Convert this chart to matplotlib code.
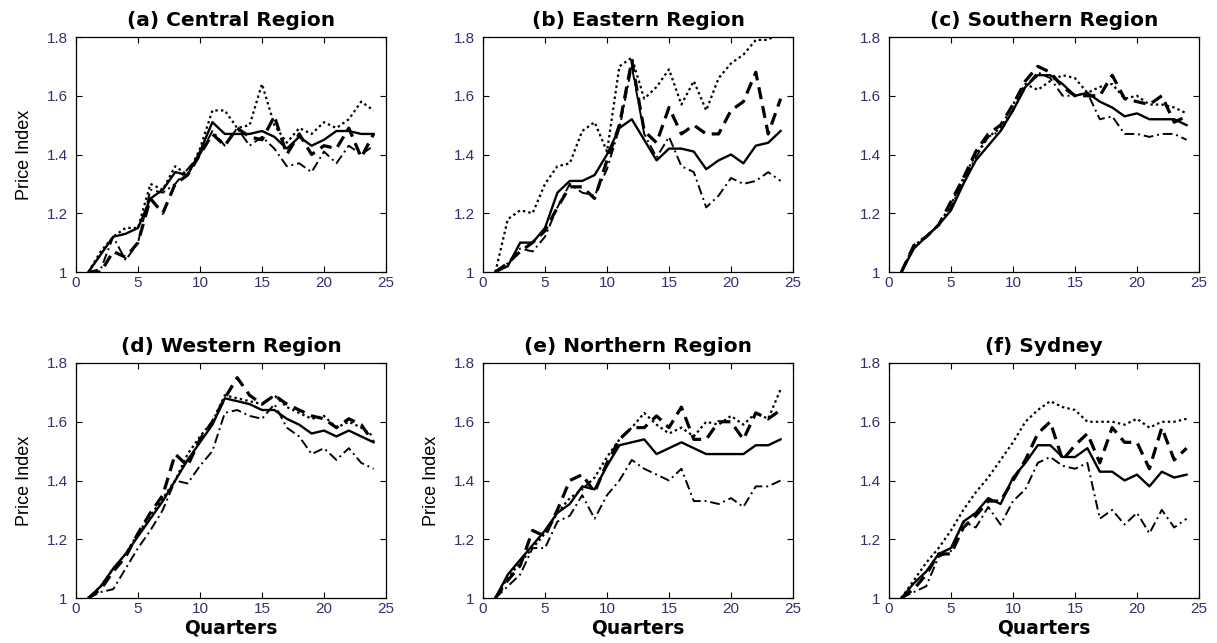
import matplotlib
matplotlib.use("Agg")
import matplotlib.pyplot as plt
import numpy as np

plt.rcParams['font.family'] = ['Liberation Sans', 'DejaVu Sans']

quarters = np.arange(1, 25)

titles = ['(a) Central Region', '(b) Eastern Region', '(c) Southern Region',
          '(d) Western Region', '(e) Northern Region', '(f) Sydney']

# four series per panel: solid, dotted, dashed, dash-dot
central_solid = [1.00, 1.06, 1.12, 1.13, 1.15, 1.25, 1.28, 1.34, 1.33, 1.41, 1.51, 1.47,
                 1.47, 1.47, 1.48, 1.46, 1.42, 1.46, 1.43, 1.45, 1.48, 1.48, 1.47, 1.47]
central_dot = [1.00, 1.07, 1.12, 1.15, 1.15, 1.30, 1.28, 1.36, 1.33, 1.42, 1.55, 1.55,
               1.49, 1.50, 1.64, 1.50, 1.44, 1.49, 1.47, 1.51, 1.49, 1.52, 1.58, 1.55]
central_dash = [1.00, 1.00, 1.07, 1.05, 1.10, 1.25, 1.20, 1.30, 1.33, 1.40, 1.47, 1.43,
                1.49, 1.46, 1.45, 1.53, 1.40, 1.47, 1.40, 1.43, 1.42, 1.49, 1.39, 1.47]
central_dashdot = [1.00, 1.01, 1.12, 1.04, 1.10, 1.28, 1.27, 1.30, 1.35, 1.40, 1.48, 1.43,
                   1.49, 1.43, 1.46, 1.42, 1.36, 1.37, 1.34, 1.41, 1.37, 1.43, 1.40, 1.43]

eastern_solid = [1.00, 1.02, 1.10, 1.10, 1.15, 1.27, 1.31, 1.31, 1.33, 1.40, 1.49, 1.52,
                 1.45, 1.38, 1.42, 1.42, 1.41, 1.35, 1.38, 1.40, 1.37, 1.43, 1.44, 1.48]
eastern_dot = [1.00, 1.18, 1.21, 1.20, 1.30, 1.36, 1.37, 1.48, 1.51, 1.41, 1.70, 1.73,
               1.59, 1.63, 1.69, 1.57, 1.65, 1.55, 1.66, 1.71, 1.74, 1.79, 1.79, 1.82]
eastern_dash = [1.00, 1.03, 1.07, 1.10, 1.14, 1.22, 1.29, 1.29, 1.25, 1.38, 1.50, 1.72,
                1.48, 1.44, 1.56, 1.47, 1.50, 1.47, 1.47, 1.55, 1.58, 1.68, 1.47, 1.59]
eastern_dashdot = [1.00, 1.03, 1.08, 1.07, 1.12, 1.22, 1.30, 1.27, 1.26, 1.35, 1.49, 1.70,
                   1.47, 1.39, 1.46, 1.36, 1.34, 1.22, 1.26, 1.32, 1.30, 1.31, 1.34, 1.31]

southern_solid = [1.00, 1.08, 1.12, 1.16, 1.21, 1.30, 1.38, 1.43, 1.48, 1.55, 1.63, 1.67,
                  1.67, 1.64, 1.60, 1.61, 1.58, 1.56, 1.53, 1.54, 1.52, 1.52, 1.52, 1.50]
southern_dot = [1.00, 1.09, 1.12, 1.16, 1.23, 1.32, 1.40, 1.46, 1.49, 1.57, 1.64, 1.62,
                1.65, 1.67, 1.66, 1.61, 1.63, 1.64, 1.59, 1.60, 1.57, 1.57, 1.56, 1.54]
southern_dash = [1.00, 1.09, 1.12, 1.16, 1.24, 1.32, 1.41, 1.47, 1.50, 1.57, 1.65, 1.70,
                 1.68, 1.63, 1.60, 1.60, 1.60, 1.67, 1.59, 1.58, 1.57, 1.60, 1.51, 1.53]
southern_dashdot = [1.00, 1.08, 1.12, 1.16, 1.22, 1.31, 1.39, 1.46, 1.48, 1.55, 1.63, 1.68,
                    1.66, 1.60, 1.60, 1.61, 1.52, 1.53, 1.47, 1.47, 1.46, 1.47, 1.47, 1.45]

western_solid = [1.00, 1.04, 1.10, 1.15, 1.21, 1.27, 1.33, 1.40, 1.47, 1.53, 1.59, 1.68,
                 1.67, 1.66, 1.64, 1.64, 1.61, 1.59, 1.56, 1.57, 1.55, 1.57, 1.55, 1.53]
western_dot = [1.00, 1.04, 1.10, 1.15, 1.22, 1.28, 1.34, 1.40, 1.49, 1.55, 1.60, 1.69,
               1.68, 1.67, 1.66, 1.69, 1.65, 1.63, 1.61, 1.62, 1.58, 1.60, 1.58, 1.55]
western_dash = [1.00, 1.03, 1.09, 1.14, 1.22, 1.29, 1.35, 1.49, 1.45, 1.54, 1.60, 1.68,
                1.75, 1.69, 1.66, 1.69, 1.66, 1.64, 1.62, 1.61, 1.58, 1.61, 1.59, 1.53]
western_dashdot = [1.00, 1.02, 1.03, 1.10, 1.17, 1.23, 1.30, 1.40, 1.39, 1.45, 1.50, 1.63,
                   1.64, 1.62, 1.61, 1.66, 1.58, 1.55, 1.49, 1.51, 1.47, 1.51, 1.46, 1.44]

northern_solid = [1.00, 1.08, 1.13, 1.18, 1.23, 1.29, 1.32, 1.38, 1.37, 1.45, 1.52, 1.53,
                  1.54, 1.49, 1.51, 1.53, 1.51, 1.49, 1.49, 1.49, 1.49, 1.52, 1.52, 1.54]
northern_dot = [1.00, 1.07, 1.12, 1.17, 1.22, 1.29, 1.34, 1.37, 1.41, 1.48, 1.54, 1.58,
                1.63, 1.59, 1.56, 1.58, 1.55, 1.60, 1.59, 1.62, 1.59, 1.63, 1.61, 1.71]
northern_dash = [1.00, 1.06, 1.11, 1.23, 1.21, 1.30, 1.40, 1.42, 1.36, 1.46, 1.54, 1.58,
                 1.58, 1.62, 1.58, 1.65, 1.54, 1.54, 1.60, 1.60, 1.54, 1.63, 1.61, 1.64]
northern_dashdot = [1.00, 1.04, 1.08, 1.17, 1.17, 1.26, 1.28, 1.35, 1.27, 1.35, 1.40, 1.47,
                    1.44, 1.42, 1.40, 1.44, 1.33, 1.33, 1.32, 1.34, 1.31, 1.38, 1.38, 1.40]

sydney_solid = [1.00, 1.05, 1.09, 1.15, 1.17, 1.26, 1.29, 1.34, 1.32, 1.41, 1.46, 1.52,
                1.52, 1.48, 1.48, 1.51, 1.43, 1.43, 1.40, 1.42, 1.38, 1.43, 1.41, 1.42]
sydney_dot = [1.00, 1.06, 1.12, 1.17, 1.23, 1.30, 1.36, 1.41, 1.47, 1.53, 1.60, 1.64,
              1.67, 1.65, 1.64, 1.60, 1.60, 1.60, 1.59, 1.61, 1.58, 1.60, 1.60, 1.61]
sydney_dash = [1.00, 1.03, 1.08, 1.15, 1.15, 1.24, 1.28, 1.33, 1.33, 1.40, 1.47, 1.56,
               1.60, 1.47, 1.52, 1.56, 1.46, 1.58, 1.53, 1.53, 1.44, 1.58, 1.47, 1.51]
sydney_dashdot = [1.00, 1.02, 1.04, 1.14, 1.16, 1.26, 1.24, 1.31, 1.25, 1.33, 1.37, 1.46,
                  1.48, 1.45, 1.44, 1.46, 1.27, 1.30, 1.25, 1.29, 1.22, 1.30, 1.24, 1.27]

panels = [
    [central_solid, central_dot, central_dash, central_dashdot],
    [eastern_solid, eastern_dot, eastern_dash, eastern_dashdot],
    [southern_solid, southern_dot, southern_dash, southern_dashdot],
    [western_solid, western_dot, western_dash, western_dashdot],
    [northern_solid, northern_dot, northern_dash, northern_dashdot],
    [sydney_solid, sydney_dot, sydney_dash, sydney_dashdot],
]

# line styles: solid, dotted, dashed (thick), dash-dot
styles = [dict(ls='-', lw=1.7),
          dict(ls=(0, (1.1, 1.4)), lw=1.6),
          dict(ls=(0, (3.8, 2.2)), lw=2.3),
          dict(ls=(0, (5, 2, 1, 2)), lw=1.4)]

tick_col = '#3d2b6b'

fig = plt.figure(figsize=(12.17, 6.43), dpi=100)

lefts = [76, 483, 889]
tops = [37, 363]
W, H = 310, 235
fw, fh = 1217, 643

for i, (title, series) in enumerate(zip(titles, panels)):
    r, c = divmod(i, 3)
    ax = fig.add_axes([lefts[c] / fw, 1 - (tops[r] + H) / fh, W / fw, H / fh])
    for s, st in zip(series, styles):
        ax.plot(quarters, s, color='black', **st)
    ax.set_xlim(0, 25)
    ax.set_ylim(1, 1.8)
    ax.set_xticks([0, 5, 10, 15, 20, 25])
    ax.set_yticks([1, 1.2, 1.4, 1.6, 1.8])
    ax.set_yticklabels(['1', '1.2', '1.4', '1.6', '1.8'])
    ax.tick_params(direction='in', top=True, right=True, length=4, width=0.8,
                   labelsize=11, labelcolor=tick_col)
    ax.tick_params(axis='y', pad=6)
    ax.tick_params(axis='x', pad=3)
    for sp in ax.spines.values():
        sp.set_linewidth(0.9)
    ax.set_title(title, fontsize=14.5, fontweight='bold', family='DejaVu Sans', pad=8)
    if i in (0, 3, 4):
        ax.set_ylabel('Price Index', fontsize=13, labelpad=10)
    if r == 1:
        ax.set_xlabel('Quarters', fontsize=13.5, fontweight='bold',
                      family='DejaVu Sans', labelpad=2)

fig.savefig('out.png', dpi=100)
